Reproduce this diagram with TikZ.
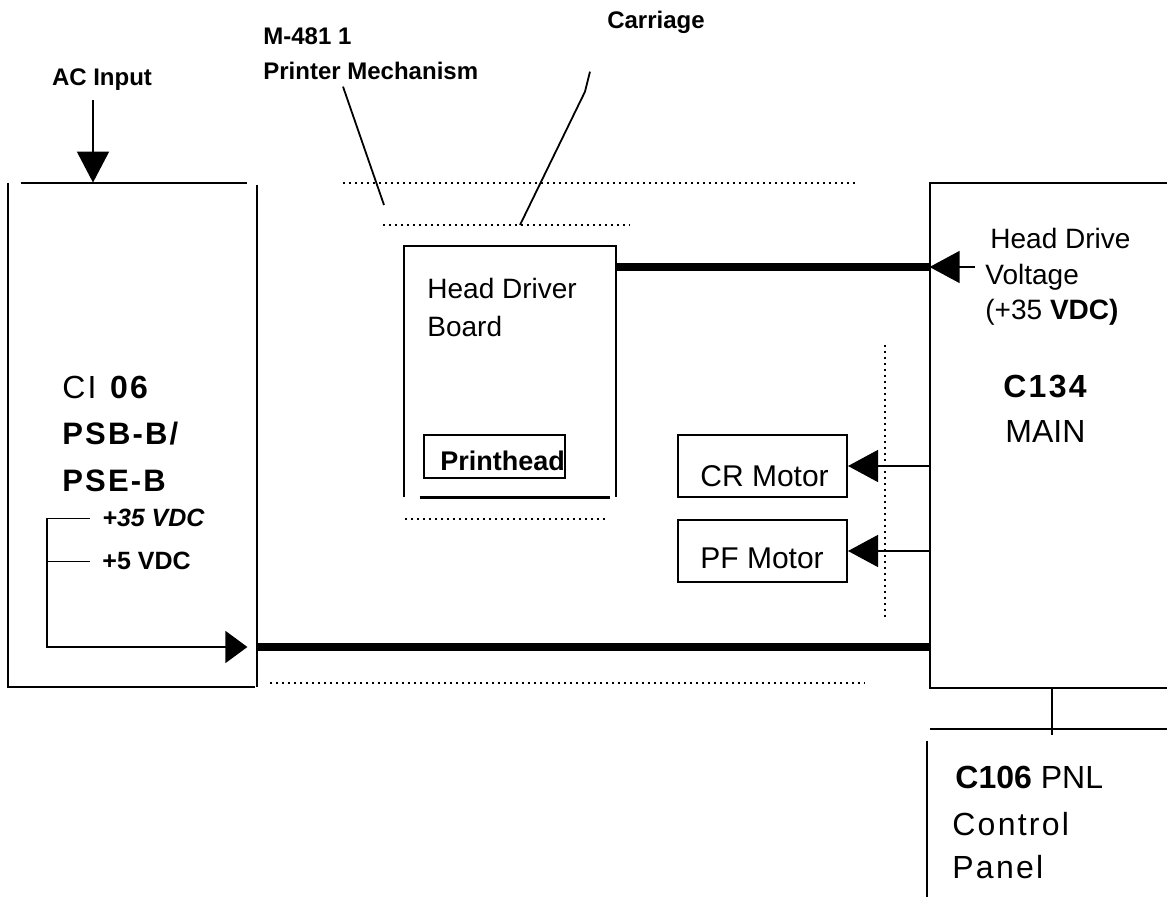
\documentclass[tikz,border=0pt]{standalone}
\usepackage{fontspec}
\setmainfont{Liberation Sans}
\newfontfamily\spacedfont[LetterSpace=7]{Liberation Sans}
\usetikzlibrary{arrows.meta,fit,positioning}

\begin{document}
\begin{tikzpicture}[x=0.5pt, y=-0.5pt,
    frame/.style={draw, line width=1pt, inner sep=0pt},
    ghost/.style={inner sep=0pt},
    txt/.style={inner sep=0pt, anchor=base west, font=\fontsize{14}{16}\selectfont},
    tag/.style={inner sep=0pt, font=\bfseries\fontsize{12}{14}\selectfont},
    leader/.style={line width=0.9pt},
    mech/.style={line width=0.9pt, dash pattern=on 1.2pt off 1.8pt},
    bus/.style={line width=3.8pt},
    feed/.style={line width=0.7pt, -{Triangle[length=15pt,width=16pt]}}
]
\useasboundingbox (0,0) rectangle (1167,897);

% power supply board
\node[ghost, fit={(8,183) (257,687)}] (psb) {};
\draw[line width=1pt] (psb.north west) -- (psb.south west) -- ([xshift=-1pt]psb.south east);
\draw[line width=1pt] ([xshift=6.5pt]psb.north west) -- ([xshift=-5pt]psb.north east);
\draw[line width=1pt] ([yshift=-1pt]psb.north east) -- (psb.south east);
\node[tag] (acin) at (102,80) {AC Input};
\coordinate (actail) at (93,100);
\draw[line width=0.8pt, -{Triangle[length=15.5pt,width=16pt]}] (actail) -- (actail |- psb.north);
\node[txt, font=\spacedfont\fontsize{16}{18}\selectfont] (ci) at (62,399) {CI \textbf{06}};
\node[txt, font=\spacedfont\bfseries\fontsize{15.5}{18}\selectfont] (psbb) at (62,445) {PSB-B/};
\node[txt, font=\spacedfont\bfseries\fontsize{15.5}{18}\selectfont] (pseb) at (62,492) {PSE-B};
\node[txt, font=\bfseries\itshape\fontsize{12.5}{14}\selectfont] (v35) at (102,527) {+35 VDC};
\node[txt, font=\bfseries\fontsize{12.5}{14}\selectfont] (v5) at (102,570) {+5 VDC};
\coordinate (rail) at (47,647);
\coordinate (busin) at ([xshift=-5pt]psb.east |- rail);
\draw[line width=0.8pt] ([xshift=-6pt]v5.west) -- (v5.west -| rail);
\draw[line width=0.8pt, -{Triangle[length=11pt,width=16pt]}]
    ([xshift=-6pt]v35.west) -- (v35.west -| rail) -- (rail) -- (busin);

% main board and panel
\node[ghost, fit={(930,183) (1167,688)}] (main) {};
\draw[line width=1pt] (main.north east) -- (main.north west) -- (main.south west) -- (main.south east);
\node[txt, font=\spacedfont\bfseries\fontsize{16}{18}\selectfont] (c134) at (1003,398) {C134};
\node[txt, font=\fontsize{16}{18}\selectfont] (mainlbl) at (1005,443) {MAIN};
\node[ghost, fit={(927,729) (1167,897)}] (pnl) {};
\draw[line width=1pt] ([xshift=1.5pt]pnl.north west) -- (pnl.north east);
\draw[line width=1pt] ([yshift=-6pt]pnl.north west) -- (pnl.south west);
\draw[line width=0.8pt] (main.south -| 1052,0) -- ([yshift=-3pt]pnl.north -| 1052,0);
\node[txt, font=\fontsize{16}{18}\selectfont] (c106) at (955,788) {\textbf{C106} PNL};
\node[txt, font=\spacedfont\fontsize{16}{18}\selectfont] (ctl) at (952,835) {Control};
\node[txt, font=\spacedfont\fontsize{16}{18}\selectfont] (pan) at (952,878) {Panel};

% printer mechanism
\draw[mech] (343,183) -- (858,183);
\draw[mech] (383,225) -- (630,225);
\draw[mech] (405,519) -- (608,519);
\draw[mech] (270,683) -- (865,683);
\draw[mech] (885,345) -- (885,618);
\node[tag, anchor=base west] (mno) at (263,45) {M-481 1};
\node[tag, anchor=base west] (mname) at (263,80) {Printer Mechanism};
\coordinate (mtip) at (384,205);
\draw[leader] ([xshift=40pt,yshift=-3pt]mname.south west) -- (mtip);
\node[tag] (carr) at (656,22) {Carriage};
\coordinate (ctip) at (520,225);
\draw[leader] ([xshift=-33pt,yshift=-19pt]carr.south) -- ++(-5,20) -- (ctip);

% head driver board
\node[ghost, fit={(404,246) (616,497)}] (hdb) {};
\draw[line width=1pt] (hdb.south west) -- (hdb.north west) -- (hdb.north east) -- (hdb.south east);
\draw[line width=1.6pt] ([xshift=8pt]hdb.south west) -- ([xshift=-3pt]hdb.south east);
\node[txt] (hdl1) at (427,299) {Head Driver};
\node[txt] (hdl2) at (427,337) {Board};
\node[frame, fit={(424,435) (565,478)}] (phd) {};
\node[txt, font=\bfseries\fontsize{13.5}{15}\selectfont] (phdl) at (440,471) {Printhead};

% head drive voltage
\coordinate (hdv) at (975,267);
\draw[bus] (hdv -| hdb.east) -- (hdv -| main.west);
\draw[feed] (hdv) -- (hdv -| main.west);
\node[txt] (hv1) at (990,249) {Head Drive};
\node[txt] (hv2) at (985,285) {Voltage};
\node[txt] (hv3) at (985,320) {(+35 \textbf{VDC)}};

% motors
\node[frame, fit={(678,435) (847,497)}] (crm) {};
\node[frame, fit={(678,520) (847,582)}] (pfm) {};
\node[txt, font=\fontsize{15}{17}\selectfont] (crl) at (700,487) {CR Motor};
\node[txt, font=\fontsize{15}{17}\selectfont] (pfl) at (700,568) {PF Motor};
\draw[feed] (crm.east -| main.west) -- (crm.east);
\draw[feed] (pfm.east -| main.west) -- (pfm.east);

% power bus
\draw[bus] (psb.east |- rail) -- (main.west |- rail);
\end{tikzpicture}
\end{document}
